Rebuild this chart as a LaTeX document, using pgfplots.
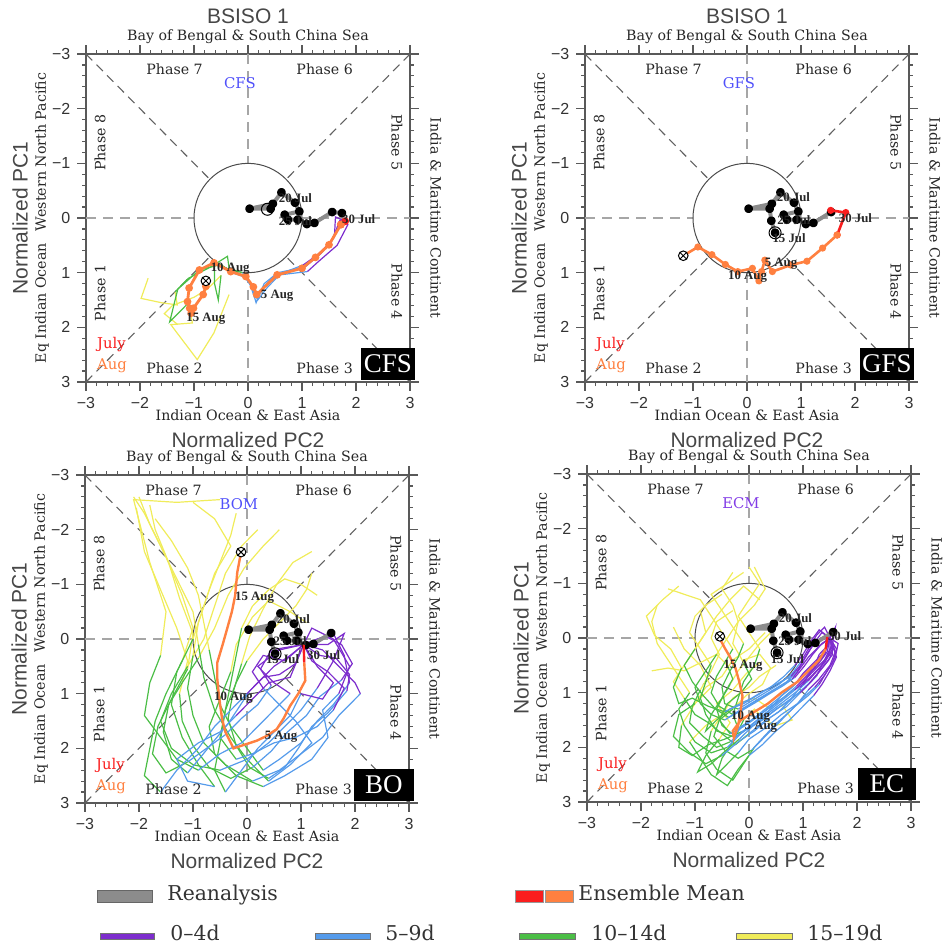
\documentclass[border=0pt]{standalone}
\usepackage{fontspec}
\usepackage{pgfplots}
\pgfplotsset{compat=1.18}
\usetikzlibrary{plotmarks}
\newfontfamily\dvs{DejaVu Serif}
\newfontfamily\lsans{Liberation Sans}
\newfontfamily\lserif{Liberation Serif}

\definecolor{memPurple}{RGB}{125,45,205}
\definecolor{memBlue}{RGB}{85,155,235}
\definecolor{memGreen}{RGB}{75,190,70}
\definecolor{memYellow}{RGB}{240,236,90}
\definecolor{meanRed}{RGB}{250,30,30}
\definecolor{meanOrange}{RGB}{255,128,64}
\definecolor{reGray}{RGB}{140,140,140}
\definecolor{modelBlue}{RGB}{80,80,250}
\definecolor{modelPurple}{RGB}{130,60,230}

% reanalysis (15 Jul - 28 Jul)
\def\reTail{(0.42,-0.17) (0.03,-0.17) (0.46,-0.26) (0.62,-0.47) (0.87,-0.28) (0.95,-0.12) (0.68,-0.06) (0.74,0.03) (0.92,0.03) (1.09,0.11) (1.23,0.09) (1.56,-0.11)}
\def\reFull{(0.52,0.27) (0.45,0.05) \reTail}

% ensemble means
\def\cfsmean{(1.80,0.06) (1.72,0.12) (1.50,0.49) (1.25,0.72) (1.00,0.92) (0.54,1.04) (0.16,1.40) (0.10,1.26) (-0.04,1.07) (-0.32,0.98) (-0.63,0.82) (-0.90,0.95) (-1.09,1.28) (-1.12,1.53) (-1.08,1.65) (-1.05,1.74) (-1.01,1.65) (-0.83,1.40) (-0.78,1.25) (-0.78,1.15)}
\def\gfsmean{(1.55,-0.14) (1.83,-0.10) (1.67,0.31) (1.40,0.55) (1.11,0.79) (0.81,0.86) (0.47,0.98) (0.33,0.77) (0.27,0.98) (0.22,1.15) (0.10,0.92) (-0.17,0.98) (-0.40,0.85) (-0.65,0.67) (-0.91,0.53) (-1.18,0.69)}
\def\bomean{(1.05,0.10) (1.06,0.43) (1.08,0.76) (0.95,1.00) (0.80,1.22) (0.68,1.45) (0.55,1.65) (0.35,1.78) (0.18,1.86) (-0.25,2.00) (-0.40,1.70) (-0.46,1.47) (-0.52,1.04) (-0.55,0.73) (-0.55,0.43) (-0.45,0.10) (-0.37,-0.18) (-0.28,-0.50) (-0.22,-0.79) (-0.20,-1.00) (-0.18,-1.22) (-0.11,-1.59)}
\def\ecmean{(1.45,-0.02) (1.42,0.20) (1.30,0.40) (1.10,0.60) (0.90,0.80) (0.60,1.00) (0.35,1.20) (0.10,1.35) (-0.15,1.50) (-0.30,1.70) (-0.28,1.83) (-0.20,1.60) (-0.15,1.30) (-0.12,1.06) (-0.18,0.80) (-0.25,0.55) (-0.35,0.35) (-0.45,0.18) (-0.52,0.05) (-0.54,-0.03)}

% CFS members
\def\cfsA{(1.80,0.06) (1.62,-0.02) (1.60,0.35) (1.35,0.65) (1.05,0.90) (0.55,1.00) (0.30,1.20) (0.15,1.55) (0.05,1.20) (-0.10,1.00) (-0.35,0.92) (-0.38,0.70) (-0.70,0.90) (-1.10,1.10) (-1.35,1.35) (-1.31,1.59) (-1.60,1.55) (-1.98,1.47) (-1.87,1.16) (-1.85,1.10)}
\def\cfsB{(1.80,0.06) (1.85,0.12) (1.65,0.50) (1.30,0.80) (1.10,0.98) (0.50,1.05) (0.25,1.30) (0.12,1.45) (0.00,1.10) (-0.30,1.00) (-0.50,0.85) (-0.90,0.95) (-1.30,1.30) (-1.45,1.90) (-1.10,1.55) (-1.03,1.92) (-1.43,1.95) (-0.94,2.59) (-0.63,2.10) (-0.35,1.40)}
\def\cfsC{(1.80,0.06) (1.70,0.05) (1.55,0.42) (1.28,0.68) (1.02,0.86) (0.60,1.02) (0.35,1.28) (0.18,1.50) (0.08,1.28) (-0.08,1.05) (-0.45,0.90) (-0.62,0.80) (-0.62,1.20) (-0.55,1.50) (-0.50,1.05) (-0.75,1.30) (-1.00,1.45) (-1.40,1.60) (-1.55,1.75) (-1.30,1.95)}

% BOM members
\def\boA{(1.05,0.10) (1.30,0.00) (1.60,-0.10) (1.80,0.30) (1.90,0.80) (1.60,1.20) (1.30,1.50) (1.00,1.90) (0.60,2.20) (0.30,2.40) (0.00,2.00) (-0.30,1.60) (-0.50,1.20) (-0.60,0.70) (-0.70,0.20) (-0.80,-0.30) (-0.90,-0.80) (-1.10,-1.30) (-1.40,-1.80) (-1.70,-2.20)}
\def\boB{(1.05,0.10) (1.40,0.20) (1.70,0.50) (2.00,0.80) (2.10,1.00) (1.70,1.40) (1.40,1.80) (1.00,2.10) (0.60,2.40) (0.10,2.60) (-0.40,2.30) (-0.80,1.90) (-1.00,1.40) (-1.10,0.90) (-1.00,0.30) (-0.90,-0.30) (-0.70,-0.90) (-0.50,-1.40) (-0.30,-1.90) (-0.20,-2.30)}
\def\boC{(1.05,0.10) (0.80,0.30) (0.50,0.50) (0.20,0.80) (0.00,1.00) (-0.30,1.30) (-0.60,1.60) (-0.90,2.00) (-1.30,2.40) (-1.60,2.80) (-1.90,2.50) (-1.80,2.00) (-1.70,1.50) (-1.50,1.00) (-1.20,0.40) (-1.00,-0.20) (-1.20,-0.80) (-1.50,-1.50) (-1.80,-2.10) (-2.00,-2.60)}
\def\boD{(1.05,0.10) (1.20,0.40) (1.50,0.60) (1.80,0.90) (1.60,1.30) (1.30,1.60) (0.90,1.80) (0.50,1.90) (0.10,2.10) (-0.20,2.20) (-0.50,1.80) (-0.40,1.30) (-0.30,0.80) (-0.20,0.30) (-0.10,-0.20) (0.10,-0.60) (0.40,-0.90) (0.70,-1.10) (1.00,-1.00) (1.30,-0.80)}
\def\boE{(1.05,0.10) (0.70,0.40) (0.30,0.30) (0.10,0.60) (0.30,0.90) (0.60,1.20) (0.90,1.50) (1.20,1.90) (0.80,2.30) (0.40,2.60) (0.00,2.20) (-0.30,1.80) (-0.60,1.30) (-0.80,0.70) (-0.90,0.10) (-1.00,-0.50) (-1.30,-1.10) (-1.60,-1.70) (-1.90,-2.30) (-2.10,-2.60)}
\def\boF{(1.05,0.10) (1.50,0.10) (1.80,-0.10) (1.60,0.40) (1.30,0.90) (1.00,1.30) (0.70,1.60) (0.40,1.90) (0.00,2.20) (-0.50,2.40) (-1.00,2.30) (-1.40,2.00) (-1.60,1.50) (-1.40,1.00) (-1.10,0.50) (-0.80,0.00) (-0.60,-0.60) (-0.40,-1.20) (-0.10,-1.70) (0.20,-2.00)}
\def\boG{(1.05,0.10) (1.20,-0.20) (1.60,0.00) (1.90,0.50) (1.70,1.00) (1.40,1.30) (1.50,1.80) (1.20,2.20) (0.70,2.50) (0.30,2.70) (-0.20,2.50) (-0.60,2.10) (-0.70,1.60) (-0.50,1.10) (-0.30,0.60) (-0.20,0.10) (0.10,-0.40) (0.40,-0.70) (0.80,-0.50) (1.10,-0.30)}
\def\boH{(1.05,0.10) (0.80,0.70) (0.40,0.80) (0.10,1.10) (-0.20,1.40) (-0.50,1.70) (-0.90,1.90) (-1.30,2.20) (-1.10,2.60) (-0.60,2.70) (-0.90,2.30) (-1.20,1.80) (-1.40,1.20) (-1.30,0.60) (-1.00,0.00) (-0.80,-0.60) (-0.60,-1.20) (-0.30,-1.70) (-0.60,-2.20) (-1.00,-2.50)}
\def\boI{(1.05,0.10) (1.30,0.50) (1.60,0.80) (1.40,1.10) (1.00,1.00) (0.80,1.40) (0.50,1.70) (0.20,2.00) (-0.10,2.40) (-0.40,2.80) (-0.60,2.40) (-0.50,1.90) (-0.40,1.30) (-0.20,0.80) (0.00,0.40) (0.30,0.00) (0.60,-0.30) (0.90,-0.60) (1.10,-0.90) (1.20,-1.20)}
\def\boJ{(1.05,0.10) (0.60,0.20) (0.20,0.50) (0.50,0.80) (0.80,1.00) (0.50,1.30) (0.20,1.60) (-0.10,1.90) (-0.50,2.10) (-0.90,2.40) (-1.30,2.20) (-1.60,1.80) (-1.90,1.40) (-1.80,0.80) (-1.60,0.30) (-1.50,-0.50) (-1.80,-1.40) (-2.10,-2.55) (-1.30,-2.50) (-0.50,-2.55)}
\def\boK{(1.05,0.10) (1.45,-0.05) (1.75,0.10) (1.95,0.45) (1.75,0.75) (1.35,1.05) (1.10,1.40) (0.75,1.70) (0.45,2.05) (0.10,2.35) (-0.30,2.55) (-0.70,2.35) (-1.00,1.95) (-1.20,1.50) (-1.25,1.00) (-1.10,0.40) (-1.30,-0.20) (-1.60,-0.90) (-1.90,-1.60) (-2.05,-2.40)}
\def\boL{(1.05,0.10) (0.90,0.45) (0.60,0.65) (0.30,0.70) (0.05,0.95) (-0.15,1.25) (-0.35,1.55) (-0.60,1.85) (-0.85,2.15) (-1.10,2.45) (-1.40,2.20) (-1.55,1.70) (-1.45,1.20) (-1.20,0.80) (-0.90,0.35) (-0.60,-0.20) (-0.35,-0.80) (-0.05,-1.30) (0.30,-1.70) (0.60,-2.00)}
\def\boM{(1.05,0.10) (1.35,0.30) (1.65,0.35) (1.90,0.65) (1.85,0.95) (1.50,1.35) (1.20,1.60) (0.95,2.00) (0.70,2.35) (0.40,2.55) (0.05,2.35) (-0.20,1.95) (-0.35,1.45) (-0.25,0.95) (-0.10,0.45) (0.05,-0.05) (0.30,-0.55) (0.55,-1.00) (0.85,-1.40) (1.20,-1.60)}
\def\boN{(1.05,0.10) (0.75,0.15) (0.45,0.20) (0.25,0.55) (0.45,0.85) (0.20,1.20) (-0.10,1.45) (-0.40,1.75) (-0.75,2.00) (-1.10,2.25) (-1.50,2.45) (-1.75,2.10) (-1.65,1.60) (-1.40,1.10) (-1.10,0.55) (-1.00,-0.10) (-1.25,-0.75) (-1.45,-1.40) (-1.70,-2.00) (-1.80,-2.45)}

% ECMWF members
\def\ecA{(1.50,0.00) (1.55,0.20) (1.40,0.45) (1.20,0.65) (1.00,0.85) (0.75,1.00) (0.50,1.20) (0.20,1.40) (-0.10,1.60) (-0.30,1.80) (-0.60,1.70) (-0.80,1.40) (-0.90,1.10) (-0.80,0.80) (-0.70,0.50) (-0.90,0.20) (-1.10,-0.10) (-1.00,-0.40) (-0.80,-0.60) (-0.50,-0.80)}
\def\ecB{(1.50,0.00) (1.40,0.30) (1.25,0.50) (1.05,0.75) (0.85,0.95) (0.60,1.15) (0.35,1.35) (0.10,1.55) (-0.15,1.75) (-0.40,2.00) (-0.70,2.10) (-1.00,1.90) (-1.20,1.60) (-1.30,1.30) (-1.10,1.00) (-1.30,0.70) (-1.50,0.40) (-1.70,0.10) (-1.80,-0.30) (-1.70,-0.60)}
\def\ecC{(1.50,0.00) (1.60,0.25) (1.50,0.50) (1.30,0.75) (1.10,0.95) (0.90,1.20) (0.60,1.40) (0.30,1.65) (0.00,1.85) (-0.20,2.10) (-0.40,2.30) (-0.60,2.50) (-0.50,2.20) (-0.30,1.90) (-0.10,1.50) (0.10,1.30) (0.30,1.50) (0.50,1.60) (0.80,1.50) (0.60,1.20)}
\def\ecD{(1.50,0.00) (1.30,0.15) (1.10,0.35) (0.95,0.55) (0.80,0.75) (0.55,0.90) (0.30,1.05) (0.05,1.20) (-0.20,1.35) (-0.45,1.50) (-0.70,1.40) (-0.90,1.20) (-1.00,0.90) (-0.80,0.60) (-0.60,0.30) (-0.40,0.00) (-0.20,-0.30) (-0.30,-0.60) (-0.50,-0.90) (-0.30,-1.20)}
\def\ecE{(1.50,0.00) (1.65,0.10) (1.60,0.35) (1.45,0.60) (1.30,0.85) (1.10,1.05) (0.85,1.25) (0.60,1.50) (0.35,1.75) (0.10,2.00) (-0.10,2.30) (-0.30,2.60) (-0.60,2.40) (-0.80,2.10) (-0.70,1.70) (-0.50,1.40) (-0.30,1.10) (0.00,0.90) (0.20,0.70) (0.50,0.50)}
\def\ecF{(1.50,0.00) (1.35,-0.10) (1.20,0.10) (1.05,0.35) (0.90,0.60) (0.70,0.80) (0.45,0.95) (0.20,1.10) (-0.05,1.25) (-0.30,1.40) (-0.55,1.25) (-0.70,1.00) (-0.60,0.70) (-0.45,0.45) (-0.30,0.20) (-0.50,-0.10) (-0.70,-0.40) (-0.90,-0.70) (-1.20,-0.80) (-1.50,-0.90)}
\def\ecG{(1.50,0.00) (1.55,0.30) (1.35,0.55) (1.15,0.80) (0.95,1.00) (0.70,1.25) (0.40,1.45) (0.10,1.70) (-0.20,1.90) (-0.50,2.15) (-0.80,2.30) (-1.10,2.10) (-1.40,1.80) (-1.30,1.40) (-1.00,1.20) (-0.80,0.90) (-0.50,0.70) (-0.30,0.40) (0.00,0.20) (0.30,-0.10)}
\def\ecH{(1.50,0.00) (1.45,0.15) (1.30,0.30) (1.20,0.55) (1.00,0.70) (0.80,0.90) (0.55,1.10) (0.30,1.30) (0.05,1.50) (-0.20,1.65) (-0.30,1.40) (-0.20,1.10) (-0.10,0.80) (0.10,0.50) (0.20,0.20) (0.00,-0.10) (-0.20,-0.40) (0.00,-0.70) (0.20,-1.00) (0.00,-1.30)}
\def\ecI{(1.50,0.00) (1.60,-0.20) (1.55,0.10) (1.40,0.40) (1.25,0.70) (1.05,0.90) (0.80,1.10) (0.55,1.35) (0.25,1.55) (0.00,1.75) (-0.25,1.95) (-0.50,1.75) (-0.75,1.55) (-1.00,1.40) (-1.20,1.10) (-1.40,0.80) (-1.20,0.50) (-1.00,0.20) (-0.80,-0.10) (-0.90,-0.50)}
\def\ecJ{(1.50,0.00) (1.40,0.25) (1.20,0.45) (1.00,0.65) (0.85,0.85) (0.60,1.05) (0.40,1.30) (0.15,1.50) (-0.10,1.70) (-0.35,1.90) (-0.60,2.00) (-0.85,1.80) (-1.10,1.55) (-1.05,1.25) (-0.90,0.95) (-0.70,0.60) (-0.55,0.30) (-0.70,0.00) (-0.60,-0.30) (-0.30,-0.50)}
\def\ecK{(1.50,0.00) (1.50,0.30) (1.30,0.50) (1.10,0.70) (0.95,0.90) (0.75,1.15) (0.50,1.30) (0.25,1.50) (0.00,1.65) (-0.25,1.80) (-0.50,1.60) (-0.60,1.30) (-0.45,1.00) (-0.30,0.75) (-0.40,0.50) (-0.60,0.30) (-0.90,0.45) (-1.20,0.60) (-1.50,0.55) (-1.80,0.60)}
\def\ecL{(1.50,0.00) (1.30,-0.15) (1.15,0.05) (1.00,0.30) (0.85,0.50) (0.65,0.70) (0.40,0.90) (0.15,1.05) (-0.10,1.20) (-0.35,1.30) (-0.60,1.50) (-0.80,1.70) (-0.70,1.40) (-0.50,1.10) (-0.35,0.85) (-0.20,0.60) (0.00,0.35) (0.20,0.10) (0.40,-0.10) (0.50,0.20)}
\def\ecM{(1.50,0.00) (1.62,0.35) (1.50,0.60) (1.35,0.85) (1.20,1.05) (1.00,1.25) (0.75,1.50) (0.50,1.70) (0.25,1.95) (0.00,2.15) (-0.20,2.40) (-0.40,2.70) (-0.70,2.50) (-0.90,2.20) (-1.10,1.90) (-0.80,1.60) (-0.50,1.40) (-0.20,1.20) (0.10,1.10) (0.40,1.30)}
\def\ecN{(1.50,0.00) (1.40,-0.20) (1.25,-0.05) (1.10,0.20) (0.95,0.45) (0.80,0.65) (0.55,0.85) (0.30,1.00) (0.05,1.15) (-0.20,1.30) (-0.45,1.20) (-0.50,0.90) (-0.35,0.60) (-0.20,0.35) (-0.10,0.10) (-0.30,-0.20) (-0.50,-0.50) (-0.70,-0.80) (-0.40,-1.00) (-0.10,-1.20)}
\def\ecO{(1.50,0.00) (1.58,0.15) (1.48,0.40) (1.30,0.62) (1.12,0.82) (0.90,1.02) (0.65,1.20) (0.38,1.40) (0.12,1.58) (-0.15,1.72) (-0.45,1.85) (-0.75,1.95) (-1.05,2.15) (-1.30,2.00) (-1.25,1.60) (-1.00,1.20) (-0.70,0.90) (-0.90,0.50) (-1.20,0.20) (-1.40,-0.20)}
\def\ecP{(1.50,0.00) (1.45,0.25) (1.28,0.48) (1.08,0.68) (0.88,0.88) (0.65,1.08) (0.40,1.25) (0.15,1.45) (-0.10,1.62) (-0.35,1.75) (-0.55,1.50) (-0.40,1.20) (-0.15,1.00) (0.05,0.75) (-0.10,0.45) (-0.30,0.10) (-0.20,-0.30) (0.10,-0.60) (0.30,-0.90) (0.10,-1.30)}
\def\ecQ{(1.50,0.00) (1.35,0.10) (1.18,0.30) (1.02,0.52) (0.85,0.72) (0.62,0.88) (0.38,1.02) (0.12,1.18) (-0.12,1.32) (-0.38,1.45) (-0.62,1.30) (-0.85,1.05) (-1.05,0.80) (-1.20,0.50) (-1.00,0.20) (-0.80,-0.10) (-0.60,-0.40) (-0.35,-0.70) (-0.10,-0.95) (0.20,-0.70)}
\def\ecR{(1.50,0.00) (1.62,0.20) (1.55,0.45) (1.40,0.68) (1.22,0.90) (1.00,1.10) (0.78,1.32) (0.52,1.55) (0.28,1.80) (0.05,2.05) (-0.20,2.20) (-0.45,2.05) (-0.65,1.80) (-0.55,1.50) (-0.30,1.30) (-0.05,1.05) (0.25,0.85) (0.40,0.55) (0.20,0.30) (-0.10,0.40)}
\def\ecS{(1.50,0.00) (1.25,0.05) (1.10,0.25) (0.95,0.50) (0.78,0.70) (0.55,0.82) (0.30,0.95) (0.05,1.10) (-0.20,1.22) (-0.45,1.35) (-0.75,1.25) (-1.05,1.10) (-1.30,1.20) (-1.40,0.90) (-1.25,0.55) (-1.45,0.20) (-1.75,-0.05) (-1.90,-0.40) (-1.60,-0.70) (-1.30,-0.95)}
\def\ecT{(1.50,0.00) (1.55,0.10) (1.45,0.35) (1.28,0.58) (1.10,0.78) (0.88,0.98) (0.62,1.18) (0.35,1.38) (0.08,1.60) (-0.18,1.85) (-0.42,2.05) (-0.70,2.30) (-0.95,2.45) (-0.80,2.15) (-0.55,1.85) (-0.35,1.55) (-0.60,1.20) (-0.30,0.95) (-0.05,0.65) (0.20,0.45)}

% plot a coordinate macro
\newcommand{\plotco}[2]{\edef\tmp{\noexpand\addplot[\unexpanded{#1}] coordinates {#2};}\tmp}
% one lead-time segment of one member
\newcommand{\mm}[1]{\edef\tmp{\noexpand\addplot[mem,draw=\memcol,restrict expr to domain={\noexpand\coordindex}{\memdom}] coordinates {#1};}\tmp}
\newcommand{\drawmembers}[1]{%
  \def\memcol{memYellow}\def\memdom{14:19}#1%
  \def\memcol{memGreen}\def\memdom{9:14}#1%
  \def\memcol{memBlue}\def\memdom{4:9}#1%
  \def\memcol{memPurple}\def\memdom{0:4}#1}

\tikzset{
  lab/.style={font=\dvs\fontsize{7.1}{8}\selectfont, text=black!85, inner sep=0pt},
  big/.style={font=\lsans\fontsize{10.5}{11}\selectfont, text=black!72, inner sep=0pt},
  dl/.style={font=\lserif\bfseries\fontsize{6.4}{7}\selectfont, text=black!85, inner sep=0pt},
  diag/.style={draw=black!62, line width=0.55pt, dash pattern=on 4.5pt off 3pt},
  axl/.style={draw=black!35, line width=0.9pt, dash pattern=on 5pt off 3.5pt},
  lgt/.style={font=\dvs\fontsize{10.2}{11}\selectfont, text=black!80, anchor=mid west, inner sep=0pt},
}

\pgfplotsset{
  mem/.style={line width=0.6pt, no markers, forget plot},
  reana/.style={draw=reGray, line width=2pt, line join=round, mark=*, mark size=1.2pt, mark options={draw=black, fill=black}},
  phase/.style={
    scale only axis, width=162pt, height=164pt,
    xmin=-3, xmax=3, ymin=-3, ymax=3, y dir=reverse,
    xtick={-3,-2,...,3}, ytick={-3,-2,...,3},
    xticklabels={−3,−2,−1,0,1,2,3}, yticklabels={−3,−2,−1,0,1,2,3},
    minor tick num=4, tick align=outside,
    xtick pos=both, ytick pos=both,
    major tick length=4.3pt, minor tick length=2pt,
    axis line style={draw=black!65, line width=1pt},
    tick style={draw=black!65, line width=0.6pt},
    tick label style={font=\lsans\fontsize{8}{8}\selectfont, text=black!80},
    clip mode=individual,
  },
}

\newcommand{\phasebg}{%
  \draw[diag] (axis cs:-3,-3) -- (axis cs:-0.7071,-0.7071);
  \draw[diag] (axis cs:3,3) -- (axis cs:0.7071,0.7071);
  \draw[diag] (axis cs:-3,3) -- (axis cs:-0.7071,0.7071);
  \draw[diag] (axis cs:3,-3) -- (axis cs:0.7071,-0.7071);
  \draw[axl] (axis cs:0,-3) -- (axis cs:0,-1);
  \draw[axl] (axis cs:0,1) -- (axis cs:0,3);
  \draw[axl] (axis cs:-3,0) -- (axis cs:-1,0);
  \draw[axl] (axis cs:1,0) -- (axis cs:3,0);
  \draw[draw=black!70, line width=0.5pt] (axis cs:0,0) ellipse [x radius=1, y radius=1];
}

% #1 model name, #2 its colour, #3 box text, #4 box width
\newcommand{\paneltext}[4]{%
  \node[lab] at (axis cs:-1.36,-2.73) {Phase 7};
  \node[lab] at (axis cs:1.42,-2.73) {Phase 6};
  \node[lab,rotate=90] at (axis cs:-2.74,-1.38) {Phase 8};
  \node[lab,rotate=-90] at (axis cs:2.76,-1.38) {Phase 5};
  \node[lab,rotate=90] at (axis cs:-2.74,1.37) {Phase 1};
  \node[lab,rotate=-90] at (axis cs:2.76,1.35) {Phase 4};
  \node[lab] at (axis cs:-1.36,2.74) {Phase 2};
  \node[lab] at (axis cs:1.42,2.74) {Phase 3};
  \node[lab,font=\dvs\fontsize{7.4}{8}\selectfont,text=#2] at (axis cs:-0.15,-2.46) {#1};
  \node[lab,font=\dvs\fontsize{7.4}{8}\selectfont,text=meanRed,anchor=west] at (axis cs:-2.80,2.32) {July};
  \node[lab,font=\dvs\fontsize{7.4}{8}\selectfont,text=meanOrange,anchor=west] at (axis cs:-2.80,2.70) {Aug};
  \node[fill=black, text=white, anchor=south east, minimum width=#4, minimum height=16pt, inner sep=1pt,
        font=\lserif\fontsize{13.5}{14}\selectfont] at (axis cs:3.1,2.97) {#3};
  \node[lab] at ([yshift=8.5pt]axis cs:0,-3) {Bay of Bengal \& South China Sea};
  \node[lab] at ([yshift=-16.5pt]axis cs:0,3) {Indian Ocean \& East Asia};
  \node[big] at ([yshift=-29pt]axis cs:0,3) {Normalized PC2};
  \node[big,rotate=90] at ([xshift=-33pt]axis cs:-3,0) {Normalized PC1};
  \node[lab,rotate=90] at ([xshift=-22pt]axis cs:-3,0) {Eq Indian Ocean\hspace{6pt}Western North Pacific};
  \node[lab,rotate=-90] at ([xshift=13pt]axis cs:3,0) {India \& Maritime Continent};
}

\begin{document}
\begin{tikzpicture}
\useasboundingbox (0pt,0pt) rectangle (474pt,-475pt);

% ---------------- CFS ----------------
\begin{axis}[phase, at={(43pt,-191pt)}, anchor=south west]
  \phasebg
  \drawmembers{\mm\cfsA\mm\cfsB\mm\cfsC}
  \plotco{reana}{\reTail (1.74,-0.09)}
  \addplot[only marks, mark=o, mark size=3pt, black, line width=0.5pt] coordinates {(0.36,-0.16)};
  \plotco{draw=meanRed, line width=1.4pt, mark=*, mark size=1.2pt, mark options={fill=meanRed}, restrict expr to domain={\coordindex}{0:1}}{\cfsmean}
  \plotco{draw=meanOrange, line width=1.4pt, mark=*, mark size=1.2pt, mark options={fill=meanOrange}, restrict expr to domain={\coordindex}{1:19}}{\cfsmean}
  \addplot[only marks, mark=otimes*, mark size=2.4pt, mark options={fill=white, draw=black, line width=0.5pt}] coordinates {(-0.78,1.15)};
  \node[dl] at (axis cs:0.88,-0.37) {20 Jul};
  \node[dl] at (axis cs:0.88,0.05) {25 Jul};
  \node[dl] at (axis cs:2.05,0.02) {30 Jul};
  \node[dl] at (axis cs:0.54,1.42) {5 Aug};
  \node[dl] at (axis cs:-0.33,0.92) {10 Aug};
  \node[dl] at (axis cs:-0.78,1.85) {15 Aug};
  \paneltext{CFS}{modelBlue}{CFS}{27pt}
  \node[big] at ([yshift=19pt]axis cs:0,-3) {BSISO 1};
\end{axis}

% ---------------- GFS ----------------
\begin{axis}[phase, at={(292.5pt,-191pt)}, anchor=south west]
  \phasebg
  \plotco{reana}{\reFull}
  \addplot[only marks, mark=o, mark size=3pt, black, line width=0.5pt] coordinates {(0.52,0.27)};
  \plotco{draw=meanRed, line width=1.3pt, mark=*, mark size=1.1pt, mark options={fill=meanRed}, restrict expr to domain={\coordindex}{0:2}}{\gfsmean}
  \plotco{draw=meanOrange, line width=1.3pt, mark=*, mark size=1.1pt, mark options={fill=meanOrange}, restrict expr to domain={\coordindex}{2:15}}{\gfsmean}
  \addplot[only marks, mark=otimes*, mark size=2.4pt, mark options={fill=white, draw=black, line width=0.5pt}] coordinates {(-1.18,0.69)};
  \node[dl] at (axis cs:0.86,-0.38) {20 Jul};
  \node[dl] at (axis cs:0.87,0.03) {25 Jul};
  \node[dl] at (axis cs:2.01,0.01) {30 Jul};
  \node[dl] at (axis cs:0.78,0.37) {15 Jul};
  \node[dl] at (axis cs:0.63,0.84) {5 Aug};
  \node[dl] at (axis cs:0.01,1.07) {10 Aug};
  \paneltext{GFS}{modelBlue}{GFS}{27pt}
  \node[big] at ([yshift=19pt]axis cs:0,-3) {BSISO 1};
\end{axis}

% ---------------- BOM ----------------
\begin{axis}[phase, at={(42.5pt,-401.5pt)}, anchor=south west]
  \phasebg
  \drawmembers{\mm\boA\mm\boB\mm\boC\mm\boD\mm\boE\mm\boF\mm\boG\mm\boH\mm\boI\mm\boJ\mm\boK\mm\boL\mm\boM\mm\boN}
  \plotco{reana}{\reFull}
  \addplot[only marks, mark=o, mark size=3pt, black, line width=0.5pt] coordinates {(0.52,0.27)};
  \plotco{draw=meanRed, line width=1.2pt, restrict expr to domain={\coordindex}{0:1}}{\bomean}
  \plotco{draw=meanOrange, line width=1.2pt, restrict expr to domain={\coordindex}{1:21}}{\bomean}
  \addplot[only marks, mark=otimes*, mark size=2.4pt, mark options={fill=white, draw=black, line width=0.5pt}] coordinates {(-0.11,-1.59)};
  \node[dl] at (axis cs:0.86,-0.37) {20 Jul};
  \node[dl] at (axis cs:0.80,0.04) {25 Jul};
  \node[dl] at (axis cs:0.66,0.36) {15 Jul};
  \node[dl] at (axis cs:1.42,0.30) {30 Jul};
  \node[dl] at (axis cs:0.63,1.78) {5 Aug};
  \node[dl] at (axis cs:-0.25,1.07) {10 Aug};
  \node[dl] at (axis cs:0.14,-0.76) {15 Aug};
  \paneltext{BOM}{modelBlue}{BO}{30pt}
\end{axis}

% ---------------- ECMWF ----------------
\begin{axis}[phase, at={(293.5pt,-401pt)}, anchor=south west]
  \phasebg
  \drawmembers{\mm\ecA\mm\ecB\mm\ecC\mm\ecD\mm\ecE\mm\ecF\mm\ecG\mm\ecH\mm\ecI\mm\ecJ\mm\ecK\mm\ecL\mm\ecM\mm\ecN\mm\ecO\mm\ecP\mm\ecQ\mm\ecR\mm\ecS\mm\ecT}
  \plotco{reana}{\reFull}
  \addplot[only marks, mark=o, mark size=3pt, black, line width=0.5pt] coordinates {(0.52,0.27)};
  \plotco{draw=meanRed, line width=1.2pt, restrict expr to domain={\coordindex}{0:1}}{\ecmean}
  \plotco{draw=meanOrange, line width=1.2pt, restrict expr to domain={\coordindex}{1:19}}{\ecmean}
  \addplot[only marks, mark=otimes*, mark size=2.4pt, mark options={fill=white, draw=black, line width=0.5pt}] coordinates {(-0.54,-0.03)};
  \node[dl] at (axis cs:0.86,-0.37) {20 Jul};
  \node[dl] at (axis cs:0.85,0.05) {25 Jul};
  \node[dl] at (axis cs:1.77,-0.04) {30 Jul};
  \node[dl] at (axis cs:0.71,0.38) {15 Jul};
  \node[dl] at (axis cs:0.22,1.63) {5 Aug};
  \node[dl] at (axis cs:0.03,1.44) {10 Aug};
  \node[dl] at (axis cs:-0.11,0.50) {15 Aug};
  \paneltext{ECM}{modelPurple}{EC}{29pt}
\end{axis}

% ---------------- key ----------------
\filldraw[fill=reGray, draw=black!60, line width=0.5pt] (48.5pt,-445pt) rectangle (76pt,-451pt);
\node[lgt] at (83.5pt,-448pt) {Reanalysis};
\filldraw[fill=meanRed, draw=black!40, line width=0.4pt] (257.5pt,-445pt) rectangle (271.5pt,-451pt);
\filldraw[fill=meanOrange, draw=black!40, line width=0.4pt] (272.5pt,-445pt) rectangle (286.5pt,-451pt);
\node[lgt] at (289pt,-448pt) {Ensemble Mean};
\filldraw[fill=memPurple, draw=black!55, line width=0.4pt] (50pt,-466.5pt) rectangle (77pt,-469.5pt);
\node[lgt] at (85pt,-468pt) {0–4d};
\filldraw[fill=memBlue, draw=black!55, line width=0.4pt] (157.5pt,-466.5pt) rectangle (185pt,-469.5pt);
\node[lgt] at (192.5pt,-468pt) {5–9d};
\filldraw[fill=memGreen, draw=black!55, line width=0.4pt] (259.5pt,-466.5pt) rectangle (287.5pt,-469.5pt);
\node[lgt] at (295.5pt,-468pt) {10–14d};
\filldraw[fill=memYellow, draw=black!55, line width=0.4pt] (368pt,-466.5pt) rectangle (396pt,-469.5pt);
\node[lgt] at (403.5pt,-468pt) {15–19d};
\end{tikzpicture}
\end{document}
